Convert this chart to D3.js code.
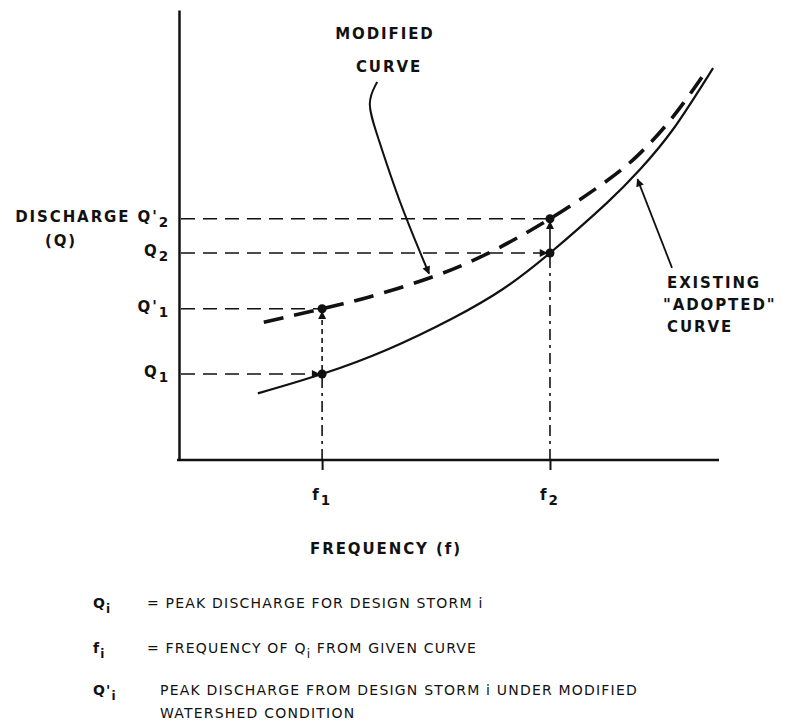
<!DOCTYPE html>
<html lang="en">
<head>
<meta charset="utf-8">
<title>Discharge vs frequency</title>
<style>
  body { margin: 0; background: #fff; }
  text {
    font-family: "DejaVu Sans", sans-serif;
    fill: #111;
  }
  .lbl { font-size: 15px; font-weight: bold; letter-spacing: 1.9px; }
  .legend text { font-size: 14px; letter-spacing: 1.2px; }
  .axis path, .axis line { stroke: #111; }
</style>
</head>
<body>
<script src="https://cdn.jsdelivr.net/npm/d3@7"></script>
<script>
// frequency positions of the two design storms (arbitrary units 0-100)
var freqNames = ["f1", "f2"];
var freqValues = [26.5, 68.7];

// discharge levels (arbitrary units 0-100)
var qNames = ["Q1", "Q'1", "Q2", "Q'2"];
var qValues = [19.1, 33.6, 46.0, 53.6];

// existing "adopted" curve
var existingX = [14.6, 26.5, 38.5, 50.7, 60.0, 68.7, 79.3, 85.4, 91.5, 98.9];
var existingY = [14.8, 19.1, 24.5, 31.5, 38.0, 46.0, 57.2, 64.6, 73.5, 87.1];

// modified curve
var modifiedX = [15.7, 26.5, 35.4, 46.5, 57.0, 68.7, 79.3, 85.4, 91.5, 98.0];
var modifiedY = [30.6, 33.6, 36.3, 40.5, 45.8, 53.6, 62.1, 68.2, 76.3, 87.1];

// leader line for the "modified curve" note, and for the "existing" note
var modLeaderX = [36.7, 34.7, 36.5, 40.6, 46.3];
var modLeaderY = [84.0, 79.5, 73.0, 57.8, 41.4];
var exLeaderX = [91.3, 84.9];
var exLeaderY = [42.7, 62.4];

// legend rows
var legendSym = ["Q", "f", "Q'"];
var legendText = [
  "= PEAK DISCHARGE FOR DESIGN STORM i",
  "= FREQUENCY OF Q",
  "PEAK DISCHARGE FROM DESIGN STORM i  UNDER MODIFIED"
];

var w = 786, h = 728;
var svg = d3.select("body").append("svg")
  .attr("width", w)
  .attr("height", h);

var xScale = d3.scaleLinear().domain([0, 100]).range([179, 719]);
var yScale = d3.scaleLinear().domain([0, 100]).range([460, 10]);

// arrow marker
svg.append("defs").append("marker")
  .attr("id", "arrow")
  .attr("viewBox", "0 0 10 10")
  .attr("refX", 9).attr("refY", 5)
  .attr("markerWidth", 11).attr("markerHeight", 8)
  .attr("markerUnits", "userSpaceOnUse")
  .attr("orient", "auto")
  .append("path")
  .attr("d", "M0,0 L10,5 L0,10 Z")
  .attr("fill", "#111");

// axes
var xAxis = d3.axisBottom(xScale)
  .tickValues(freqValues)
  .tickSize(10)
  .tickSizeOuter(0)
  .tickFormat("");
svg.append("g")
  .attr("class", "axis")
  .attr("transform", "translate(0," + yScale(0) + ")")
  .call(xAxis)
  .call(function(g) {
    g.select(".domain").attr("stroke-width", 2.5)
      .attr("d", "M" + (xScale(0) - 2) + ",0H" + xScale(100));
    g.selectAll(".tick line").attr("stroke-width", 2);
  });

var yAxis = d3.axisLeft(yScale)
  .tickValues([])
  .tickSizeOuter(0);
svg.append("g")
  .attr("class", "axis")
  .attr("transform", "translate(" + xScale(0) + ",0)")
  .call(yAxis)
  .call(function(g) { g.select(".domain").attr("stroke-width", 2.5); });

// reference lines: horizontal from the axis to each point
var hLines = [
  { x: freqValues[0], y: qValues[0], arrow: true },
  { x: freqValues[0], y: qValues[1], arrow: false },
  { x: freqValues[1], y: qValues[2], arrow: true },
  { x: freqValues[1], y: qValues[3], arrow: false }
];
svg.selectAll(".hline")
  .data(hLines)
  .enter().append("line")
  .attr("class", "hline")
  .attr("x1", xScale(0) + 2)
  .attr("x2", function(d) { return xScale(d.x) - (d.arrow ? 3 : 0); })
  .attr("y1", function(d) { return yScale(d.y); })
  .attr("y2", function(d) { return yScale(d.y); })
  .attr("stroke", "#111")
  .attr("stroke-width", 1.6)
  .attr("stroke-dasharray", "14,8")
  .attr("marker-end", function(d) { return d.arrow ? "url(#arrow)" : null; });

// vertical lines from the axis up to the existing curve, then arrow up to modified
svg.selectAll(".vline")
  .data([0, 1])
  .enter().append("line")
  .attr("class", "vline")
  .attr("x1", function(i) { return xScale(freqValues[i]); })
  .attr("x2", function(i) { return xScale(freqValues[i]); })
  .attr("y1", yScale(0))
  .attr("y2", function(i) { return yScale(qValues[i * 2]); })
  .attr("stroke", "#111")
  .attr("stroke-width", 1.6)
  .attr("stroke-dasharray", "11,5,3,5");

svg.selectAll(".varrow")
  .data([0, 1])
  .enter().append("line")
  .attr("class", "varrow")
  .attr("x1", function(i) { return xScale(freqValues[i]); })
  .attr("x2", function(i) { return xScale(freqValues[i]); })
  .attr("y1", function(i) { return yScale(qValues[i * 2]) - 4; })
  .attr("y2", function(i) { return yScale(qValues[i * 2 + 1]) + 3; })
  .attr("stroke", "#111")
  .attr("stroke-width", 1.6)
  .attr("stroke-dasharray", function(i) { return i === 0 ? "5,4" : null; })
  .attr("marker-end", "url(#arrow)");

// curves
var line = d3.line()
  .x(function(d) { return xScale(d[0]); })
  .y(function(d) { return yScale(d[1]); })
  .curve(d3.curveNatural);

svg.append("path")
  .datum(d3.zip(existingX, existingY))
  .attr("d", line)
  .attr("fill", "none")
  .attr("stroke", "#111")
  .attr("stroke-width", 2.2);

svg.append("path")
  .datum(d3.zip(modifiedX, modifiedY))
  .attr("d", line)
  .attr("fill", "none")
  .attr("stroke", "#111")
  .attr("stroke-width", 3.6)
  .attr("stroke-dasharray", "20,11");

// points
var pts = [
  [freqValues[0], qValues[0]], [freqValues[0], qValues[1]],
  [freqValues[1], qValues[2]], [freqValues[1], qValues[3]]
];
svg.selectAll(".pt")
  .data(pts)
  .enter().append("circle")
  .attr("class", "pt")
  .attr("cx", function(d) { return xScale(d[0]); })
  .attr("cy", function(d) { return yScale(d[1]); })
  .attr("r", 4.5)
  .attr("fill", "#111");

// leader lines
var leader = d3.line()
  .x(function(d) { return xScale(d[0]); })
  .y(function(d) { return yScale(d[1]); })
  .curve(d3.curveBasis);

svg.append("path")
  .datum(d3.zip(modLeaderX, modLeaderY))
  .attr("d", leader)
  .attr("fill", "none")
  .attr("stroke", "#111")
  .attr("stroke-width", 2)
  .attr("marker-end", "url(#arrow)");

svg.append("path")
  .datum(d3.zip(exLeaderX, exLeaderY))
  .attr("d", leader)
  .attr("fill", "none")
  .attr("stroke", "#111")
  .attr("stroke-width", 1.8)
  .attr("marker-end", "url(#arrow)");

// helper: label with a subscript / prime
function symbol(g, x, y, base, sub, anchor) {
  var t = g.append("text")
    .attr("class", "lbl")
    .attr("x", x).attr("y", y)
    .attr("text-anchor", anchor || "start");
  t.append("tspan").text(base);
  t.append("tspan").attr("dy", 5).attr("font-size", "13.5px").text(sub);
  return t;
}

// y labels
var yl = svg.append("g");
var qBase = ["Q", "Q'", "Q", "Q'"];
var qSub = ["1", "1", "2", "2"];
qValues.forEach(function(v, i) {
  symbol(yl, xScale(0) - 9, yScale(v) + 3, (i === 3 ? "DISCHARGE " : "") + qBase[i], qSub[i], "end");
});
yl.append("text").attr("class", "lbl")
  .attr("x", 61).attr("y", yScale(qValues[3]) + 27)
  .attr("text-anchor", "middle")
  .text("(Q)");

// x labels
freqValues.forEach(function(v, i) {
  symbol(svg, xScale(v), yScale(0) + 40, "f", String(i + 1), "middle");
});
svg.append("text").attr("class", "lbl")
  .attr("x", 386).attr("y", 554)
  .attr("text-anchor", "middle")
  .text("FREQUENCY (f)");

// notes
svg.append("text").attr("class", "lbl")
  .attr("x", 385).attr("y", 39).attr("text-anchor", "middle").text("MODIFIED");
svg.append("text").attr("class", "lbl")
  .attr("x", 389).attr("y", 72).attr("text-anchor", "middle").text("CURVE");

["EXISTING", "\"ADOPTED\"", "CURVE"].forEach(function(s, i) {
  svg.append("text").attr("class", "lbl")
    .attr("x", i === 1 ? 663 : 667)
    .attr("y", 288 + i * 22)
    .text(s);
});

// legend
var lg = svg.append("g").attr("class", "legend");
var rowY = [608, 653, 695];
legendSym.forEach(function(s, i) {
  var t = lg.append("text").attr("x", 93).attr("y", rowY[i]).attr("font-weight", "bold");
  t.append("tspan").text(s);
  t.append("tspan").attr("dy", 5).attr("font-size", "12px").text("i");
});
legendText.forEach(function(s, i) {
  var t = lg.append("text").attr("x", i === 2 ? 160 : 147).attr("y", rowY[i]);
  t.append("tspan").text(s);
  if (i === 1) {
    t.append("tspan").attr("dy", 5).attr("font-size", "12px").text("i");
    t.append("tspan").attr("dy", -5).text(" FROM GIVEN CURVE");
  }
});
lg.append("text").attr("x", 160).attr("y", 718).text("WATERSHED CONDITION");
</script>
</body>
</html>
